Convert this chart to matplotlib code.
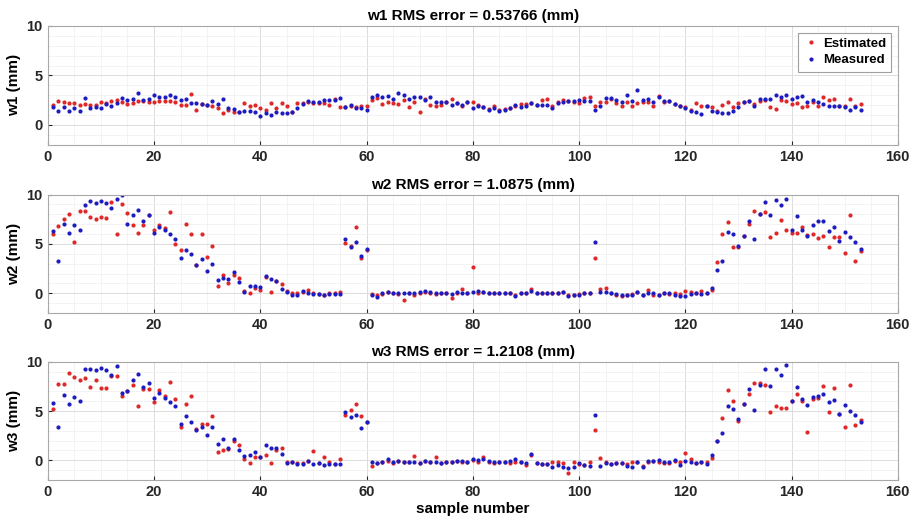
import matplotlib.pyplot as plt
import numpy as np
from matplotlib.ticker import MultipleLocator

plt.rcParams['font.family'] = ['Liberation Sans', 'DejaVu Sans']
plt.rcParams['font.weight'] = 'bold'

samples = np.arange(1, 154)

# w1 (mm)
w1_est = [2.0, 2.4, 2.3, 2.2, 2.2, 2.0, 2.1, 2.0, 2.0, 2.3,
          2.2, 2.4, 2.5, 2.3, 2.1, 2.2, 2.4, 2.4, 2.3, 2.3,
          2.4, 2.4, 2.4, 2.3, 2.0, 2.0, 3.1, 1.55, 2.1, 2.0,
          1.9, 1.7, 1.2, 1.55, 1.3, 1.35, 2.2, 1.9, 2.0, 1.7,
          1.5, 2.2, 1.7, 2.2, 1.95, 1.3, 2.2, 2.2, 2.3, 2.2,
          2.2, 2.2, 2.0, 2.65, 1.8, 1.8, 1.95, 1.8, 1.95, 1.95,
          2.55, 2.7, 2.15, 2.3, 2.2, 2.15, 2.55, 1.8, 2.3, 1.3,
          2.65, 2.05, 1.95, 2.0, 2.3, 2.65, 2.2, 1.95, 2.3, 2.3,
          2.0, 1.8, 1.6, 1.9, 1.5, 1.6, 1.75, 1.95, 2.1, 2.1,
          2.2, 2.05, 2.5, 2.6, 1.9, 2.3, 2.55, 2.4, 2.3, 2.25,
          2.75, 2.8, 1.9, 2.3, 2.3, 2.65, 2.2, 1.95, 2.3, 1.95,
          2.2, 2.3, 2.3, 1.95, 2.9, 2.3, 2.4, 2.1, 1.95, 1.8,
          1.5, 2.2, 1.95, 1.95, 1.8, 1.45, 2.05, 2.3, 1.85, 2.2,
          2.3, 2.4, 2.15, 2.4, 2.5, 1.8, 1.6, 2.5, 2.4, 2.15,
          2.2, 1.8, 1.9, 2.3, 1.9, 2.85, 2.5, 2.65, 1.9, 1.95,
          2.65, 1.95, 2.15]
w1_meas = [1.8, 1.45, 1.8, 1.4, 1.7, 1.45, 2.75, 1.7, 1.8, 1.7,
           2.1, 1.9, 2.2, 2.7, 2.5, 2.65, 3.2, 2.5, 2.65, 3.0,
           2.8, 2.8, 3.0, 2.8, 2.55, 2.65, 2.2, 2.2, 2.1, 2.0,
           2.4, 2.1, 2.65, 1.7, 1.6, 1.3, 1.45, 1.45, 1.3, 0.95,
           1.2, 1.0, 1.35, 1.2, 1.2, 1.3, 1.7, 2.1, 2.45, 2.35,
           2.35, 2.55, 2.55, 2.55, 2.7, 1.8, 2.0, 1.7, 1.7, 1.55,
           2.85, 3.0, 2.85, 2.9, 2.65, 3.2, 3.0, 2.65, 2.85, 2.85,
           2.55, 2.85, 2.3, 2.3, 2.3, 2.05, 2.2, 2.05, 2.3, 1.7,
           1.95, 1.8, 1.55, 1.7, 1.45, 1.55, 1.7, 2.0, 1.8, 1.9,
           2.2, 2.0, 2.0, 2.0, 1.7, 2.2, 2.3, 2.4, 2.4, 2.5,
           2.4, 2.4, 1.55, 1.95, 2.75, 2.75, 2.5, 2.3, 3.05, 2.4,
           3.5, 2.5, 2.65, 2.3, 2.8, 2.4, 2.4, 2.15, 1.95, 1.75,
           1.45, 1.35, 1.1, 1.9, 1.45, 1.3, 1.2, 1.2, 1.45, 1.8,
           2.3, 2.4, 1.95, 2.6, 2.6, 2.6, 3.0, 2.8, 3.05, 2.65,
           2.8, 2.9, 2.3, 2.5, 2.3, 2.15, 1.95, 1.9, 1.9, 1.8,
           1.55, 1.8, 1.55]

# w2 (mm)
w2_est = [6.0, 6.85, 7.5, 8.0, 5.2, 8.3, 8.3, 7.7, 7.5, 7.7,
          7.65, 9.3, 6.0, 9.0, 8.1, 6.9, 6.1, 6.95, 7.95, 6.4,
          6.95, 6.65, 8.2, 5.0, 4.4, 7.0, 6.0, 2.9, 6.0, 3.65,
          4.75, 0.75, 1.8, 1.05, 1.85, 1.55, 0.2, 0.05, 0.5, 0.35,
          1.6, 0.15, 1.2, 0.95, 0.25, 0.05, 0.05, 0.15, 0.3, 0.0,
          -0.1, -0.15, 0.0, 0.05, 0.15, 5.1, 4.75, 6.75, 3.55, 4.4,
          -0.05, -0.2, -0.05, 0.15, 0.0, -0.05, -0.7, 0.0, -0.15, 0.05,
          0.15, 0.0, -0.1, 0.0, 0.0, -0.45, 0.0, 0.4, 0.05, 2.65,
          0.0, 0.1, 0.05, 0.05, 0.05, 0.05, 0.05, -0.2, 0.0, 0.05,
          0.4, 0.0, 0.0, 0.0, 0.0, 0.0, 0.1, -0.2, -0.15, -0.1,
          0.05, 0.05, 3.55, 0.4, 0.5, 0.05, -0.15, -0.3, -0.15, -0.1,
          0.15, -0.15, 0.3, -0.2, -0.2, 0.05, -0.05, 0.05, -0.05, 0.25,
          0.15, 0.05, 0.25, 0.05, 0.3, 3.2, 6.05, 7.25, 4.65, 4.65,
          5.8, 7.0, 8.3, 8.0, 8.2, 5.75, 6.15, 7.45, 6.4, 6.15,
          6.15, 6.75, 5.9, 6.05, 5.6, 5.85, 4.65, 5.7, 5.7, 4.05,
          7.9, 3.25, 4.3]
w2_meas = [6.3, 3.3, 7.0, 6.15, 6.95, 6.4, 8.9, 9.35, 9.15, 9.4,
           9.2, 8.65, 9.55, 9.95, 7.0, 7.95, 8.45, 7.35, 7.9, 6.15,
           6.75, 6.4, 6.0, 5.5, 3.55, 4.4, 3.95, 2.85, 3.45, 2.25,
           3.0, 1.3, 1.55, 1.4, 2.2, 1.1, 0.15, 0.7, 0.7, 0.6,
           1.7, 1.45, 1.2, 0.4, 0.15, -0.2, -0.15, 0.25, 0.0, -0.05,
           -0.05, -0.15, -0.1, -0.05, -0.05, 5.55, 4.7, 5.15, 3.8, 4.5,
           -0.15, -0.35, 0.0, 0.15, 0.0, 0.0, 0.05, 0.05, 0.05, 0.15,
           0.25, 0.15, 0.05, 0.05, 0.05, -0.05, 0.15, 0.0, 0.05, 0.15,
           0.25, 0.15, 0.05, 0.05, 0.05, 0.05, 0.05, -0.25, 0.05, 0.05,
           0.2, 0.0, 0.0, 0.0, 0.0, 0.0, 0.15, -0.3, -0.15, -0.15,
           0.05, 0.05, 5.15, 0.15, 0.15, 0.0, -0.1, -0.15, -0.15, -0.15,
           0.15, -0.2, 0.05, 0.0, -0.15, 0.05, 0.0, -0.2, -0.3, -0.25,
           -0.1, 0.0, -0.05, 0.05, 0.5, 2.4, 3.3, 6.2, 6.0, 4.75,
           5.8, 7.35, 5.55, 8.0, 9.25, 7.9, 9.45, 8.9, 9.6, 6.4,
           7.8, 6.4, 5.85, 6.9, 7.3, 7.3, 6.3, 6.75, 5.3, 6.25,
           5.7, 5.2, 4.5]

# w3 (mm)
w3_est = [5.25, 7.75, 7.75, 8.9, 8.45, 8.1, 8.4, 7.45, 8.1, 7.35,
          7.35, 8.6, 8.6, 6.55, 7.0, 7.6, 5.5, 7.2, 7.2, 5.95,
          7.1, 6.5, 7.9, 6.2, 3.4, 5.75, 6.5, 3.15, 3.7, 3.7,
          4.45, 0.8, 1.0, 1.15, 2.0, 1.55, 0.15, -0.3, 0.3, 0.35,
          0.55, -0.25, 1.0, 1.25, -0.2, -0.15, -0.3, -0.3, -0.1, 0.9,
          -0.3, 0.3, -0.2, -0.4, 0.1, 4.6, 5.15, 5.75, 4.5, 3.9,
          -0.6, -0.3, -0.2, -0.1, -0.25, -0.1, -0.15, -0.2, 0.4, -0.3,
          -0.1, -0.2, 0.3, -0.3, -0.15, -0.15, -0.1, -0.15, -0.15, 0.0,
          -0.15, 0.3, -0.15, -0.3, -0.15, -0.15, -0.3, -0.2, -0.2, -0.5,
          0.5, -0.3, -0.4, -0.4, -0.15, -0.2, -0.3, -1.3, -0.2, -0.35,
          -0.5, -0.2, 3.1, 0.2, -0.2, -0.4, -0.3, -0.3, -0.4, -0.2,
          -0.2, -0.6, -0.2, -0.05, -0.2, -0.3, -0.25, -0.05, -0.2, 0.75,
          0.15, -0.3, -0.15, -0.2, 0.2, 2.0, 4.3, 7.1, 6.0, 3.95,
          5.75, 6.75, 7.8, 7.8, 7.6, 4.9, 5.5, 5.35, 5.35, 6.0,
          6.7, 6.0, 2.9, 6.2, 6.3, 7.55, 4.9, 7.3, 4.65, 3.4,
          7.65, 3.6, 4.1]
w3_meas = [5.85, 3.35, 6.65, 5.75, 6.45, 6.05, 9.25, 9.3, 9.15, 9.4,
           9.2, 8.7, 9.6, 6.8, 7.0, 8.1, 8.8, 7.4, 7.85, 6.35,
           6.8, 6.3, 5.95, 5.5, 3.7, 4.5, 3.85, 3.05, 3.4, 2.55,
           3.35, 1.65, 2.2, 1.3, 2.2, 1.1, 0.45, 0.5, 0.85, 0.3,
           1.55, 1.25, 1.25, 0.6, -0.3, -0.15, -0.4, -0.4, -0.05, -0.4,
           -0.3, -0.5, -0.4, -0.4, -0.4, 4.9, 4.4, 4.55, 3.25, 3.85,
           -0.15, -0.25, -0.2, 0.15, -0.15, -0.05, -0.15, -0.2, -0.15, -0.3,
           -0.05, -0.2, -0.15, -0.3, -0.15, -0.15, -0.05, -0.05, -0.15, 0.1,
           0.0, 0.1, -0.05, -0.15, -0.15, -0.15, -0.05, 0.1, -0.2, -0.25,
           0.6, -0.3, -0.4, -0.4, -0.7, -0.5, -0.65, -0.75, -0.65, -0.3,
           -0.5, -0.6, 4.55, -0.6, -0.3, -0.4, -0.3, -0.3, -0.6, -0.65,
           -0.2, -0.65, -0.05, -0.05, 0.0, -0.15, -0.15, 0.0, -0.5, -0.05,
           -0.15, -0.3, -0.15, -0.4, 0.5, 2.0, 2.75, 5.5, 5.25, 4.15,
           5.7, 7.2, 5.15, 7.6, 9.25, 7.55, 9.25, 8.7, 9.65, 6.0,
           7.45, 6.2, 5.6, 6.45, 6.55, 6.75, 5.95, 6.1, 4.7, 5.6,
           5.0, 4.55, 3.85]

titles = ['w1 RMS error = 0.53766 (mm)',
          'w2 RMS error = 1.0875 (mm)',
          'w3 RMS error = 1.2108 (mm)']
ylabels = ['w1 (mm)', 'w2 (mm)', 'w3 (mm)']
series = [(w1_est, w1_meas), (w2_est, w2_meas), (w3_est, w3_meas)]

RED = '#e02828'
BLUE = '#1c1cc0'

fig = plt.figure(figsize=(9.18, 5.19), dpi=100)
fig.patch.set_facecolor('white')

# axes positions (left, bottom, width, height) in figure fraction
boxes = [(0.052, 0.721, 0.926, 0.229),
         (0.052, 0.397, 0.926, 0.228),
         (0.052, 0.075, 0.926, 0.228)]

for i, (est, meas) in enumerate(series):
    ax = fig.add_axes(boxes[i])
    ax.plot(samples, est, linestyle='none', marker='o', markersize=3,
            markeredgewidth=0, color=RED, label='Estimated')
    ax.plot(samples, meas, linestyle='none', marker='o', markersize=3,
            markeredgewidth=0, color=BLUE, label='Measured')
    ax.set_xlim(0, 160)
    ax.set_ylim(-2, 10)
    ax.set_xticks(np.arange(0, 161, 20))
    ax.set_yticks([0, 5, 10])
    ax.xaxis.set_minor_locator(MultipleLocator(5))
    ax.yaxis.set_minor_locator(MultipleLocator(1))
    ax.grid(True, which='major', color='#dcdcdc', linewidth=0.7)
    ax.grid(True, which='minor', color='#efefef', linewidth=0.5)
    ax.set_axisbelow(True)
    ax.tick_params(which='both', direction='in', labelsize=10.5,
                   colors='#262626', length=3)
    ax.tick_params(which='minor', length=0)
    for s in ax.spines.values():
        s.set_color('#a8a8a8')
        s.set_linewidth(0.8)
    ax.set_title(titles[i], fontsize=11, fontweight='bold', pad=4)
    ax.set_ylabel(ylabels[i], fontsize=11, fontweight='bold', labelpad=4)
    if i == 0:
        leg = ax.legend(loc='upper right', fontsize=9.5, handletextpad=0.3,
                        borderpad=0.4, labelspacing=0.3, handlelength=1.2,
                        fancybox=False, framealpha=1)
        leg.get_frame().set_edgecolor('#a0a0a0')
        leg.get_frame().set_linewidth(0.8)
    if i == 2:
        ax.set_xlabel('sample number', fontsize=11, fontweight='bold', labelpad=2)

fig.savefig('out.png', dpi=100)
